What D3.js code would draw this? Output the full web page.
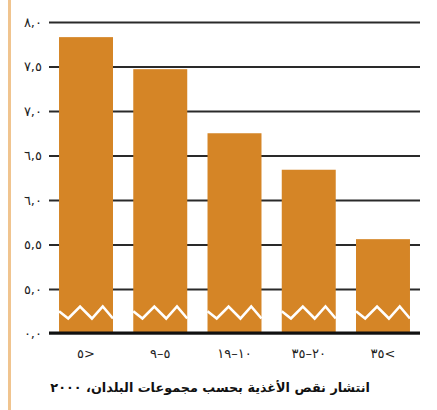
<!DOCTYPE html>
<html>
<head>
<meta charset="utf-8">
<script src="https://cdn.jsdelivr.net/npm/d3@7"></script>
<style>
  html, body { margin: 0; padding: 0; background: #ffffff; }
  svg { display: block; }
  text { font-family: "DejaVu Sans", sans-serif; }
</style>
</head>
<body>
<svg id="chart" width="437" height="410"></svg>
<script>
// Undernourishment prevalence by country group, 2000
const categories = ["٥>", "٩–٥", "١٩–١٠", "٣٥–٢٠", "٣٥<"];
const values = [7.83, 7.47, 6.75, 6.34, 5.56];
const tickValues = [0, 5, 5.5, 6, 6.5, 7, 7.5, 8];
const tickLabels = ["٠,٠", "٥,٠", "٥,٥", "٦,٠", "٦,٥", "٧,٠", "٧,٥", "٨,٠"];
const title = "انتشار نقص الأغذية بحسب مجموعات البلدان، ٢٠٠٠";

const svg = d3.select("#chart");
const plotLeft = 49, plotRight = 420, plotTop = 22, plotBottom = 333;

// Broken axis: 0–5 squeezed into a single gridline step
const y = d3.scaleLinear().domain([0, 5, 8]).range([plotBottom, 289, plotTop]);
const x = d3.scaleBand().domain(categories).range([plotLeft, plotRight])
  .paddingInner(0.273).paddingOuter(0.135);

// Frame line on the left edge
svg.append("rect").attr("x", 8).attr("y", 0).attr("width", 3).attr("height", 410)
  .attr("fill", "#f0c48f");

// Gridlines and tick labels
const yAxis = d3.axisLeft(y).tickValues(tickValues)
  .tickSize(-(plotRight - plotLeft)).tickPadding(7)
  .tickFormat((d, i) => "\u202D" + tickLabels[i] + "\u202C");
const gy = svg.append("g").attr("transform", `translate(${plotLeft},0)`).call(yAxis);
gy.attr("font-size", null).attr("font-family", null);
gy.select(".domain").remove();
gy.selectAll(".tick line").attr("stroke", "#2a2a2a").attr("stroke-width", 2);
gy.selectAll(".tick text")
  .style("font-size", "13px")
  .style("letter-spacing", "2.5px")
  .attr("fill", "#222");

// Bars
const bars = svg.append("g");
bars.selectAll("rect").data(values).join("rect")
  .attr("x", (d, i) => x(categories[i]))
  .attr("y", d => y(d))
  .attr("width", x.bandwidth())
  .attr("height", d => plotBottom - y(d))
  .attr("fill", "#d58526");

// Zigzag break mark across each bar
const zig = [[0, 0.4], [0.17, 1], [0.39, 0], [0.61, 1], [0.81, 0], [1, 1]];
const zy0 = 306.5, zh = 12;
const line = d3.line();
bars.selectAll("path").data(values).join("path")
  .attr("d", (d, i) => line(zig.map(([fx, fy]) =>
    [x(categories[i]) + fx * x.bandwidth(), zy0 + fy * zh])))
  .attr("fill", "none").attr("stroke", "#ffffff").attr("stroke-width", 2.6)
  .attr("stroke-linejoin", "miter");

// Baseline
svg.append("line").attr("x1", plotLeft).attr("x2", plotRight)
  .attr("y1", plotBottom).attr("y2", plotBottom)
  .attr("stroke", "#111").attr("stroke-width", 3);

// Category labels
svg.append("g").selectAll("text").data(categories).join("text")
  .attr("x", d => x(d) + x.bandwidth() / 2)
  .attr("y", 358)
  .attr("text-anchor", "middle")
  .style("font-size", "13px")
  .style("letter-spacing", "1px")
  .attr("fill", "#222")
  .text(d => "\u202D" + d + "\u202C");

// Title
svg.append("text")
  .attr("x", 370).attr("y", 392)
  .attr("direction", "rtl")
  .attr("text-anchor", "start")
  .style("font-size", "12.8px")
  .attr("font-weight", "bold")
  .attr("fill", "#111")
  .text(title);
</script>
</body>
</html>
